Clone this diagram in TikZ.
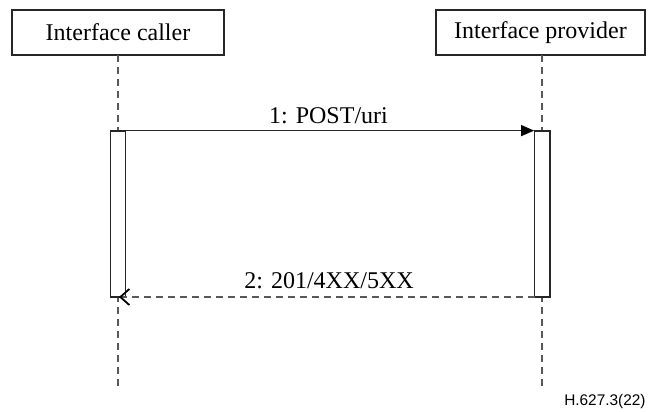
\documentclass[tikz,border=0pt]{standalone}
\usepackage{fontspec}
\setmainfont{Liberation Serif}
\newfontfamily\labelsans{Liberation Sans}
\usetikzlibrary{arrows.meta}
\begin{document}
\begin{tikzpicture}[x=0.5pt,y=-0.5pt,
  actor/.style={draw=black!85, line width=0.7pt, minimum height=22.5pt, inner sep=0pt, font=\fontsize{12}{14}\selectfont},
  life/.style={draw=black!65, line width=0.85pt, dash pattern=on 3.5pt off 2.5pt},
  bar/.style={draw=black!85, fill=white, line width=0.7pt},
  msg/.style={line width=0.7pt, draw=black!85},
  reply/.style={line width=0.85pt, draw=black!65, dash pattern=on 3.5pt off 2.5pt},
  lbl/.style={font=\fontsize{12}{14}\selectfont, inner sep=0pt, anchor=base}]
\useasboundingbox (0,0) rectangle (648,412);
% actors
\node[actor, minimum width=106pt] (caller) at (118,32.5) {Interface caller};
\node[actor, minimum width=104.5pt] (provider) at (540.5,32.5) {Interface provider};
% lifelines
\coordinate (cTop) at (118,55);
\coordinate (cBot) at (118,388);
\coordinate (pTop) at (542,55);
\coordinate (pBot) at (542,388);
\draw[life] (cTop) -- (cBot);
\draw[life] (pTop) -- (pBot);
% activation bars
\draw[bar] (110.5,131) rectangle (125.5,297);
\draw[bar] (534.5,131) rectangle (550,297);
\node[inner sep=0pt, minimum width=7.5pt, minimum height=83pt] (cbar) at (118,214) {};
\node[inner sep=0pt, minimum width=7.75pt, minimum height=83pt] (pbar) at (542.25,214) {};
% messages
\coordinate (m1s) at (cbar.north east);
\draw[msg, -{Triangle[length=6.5pt,width=5.5pt,color=black]}] (m1s) -- (pbar.north west |- m1s);
\node[lbl] (l1) at (328.5,123) {1: POST/uri};
\coordinate (m2s) at (534.5,297);
\coordinate (m2e) at (119,297);
\draw[reply, -{Straight Barb[length=4.5pt,width=8pt,line width=0.9pt,color=black]}] (m2s) -- (m2e);
\node[lbl] (l2) at (329,288) {2: 201/4XX/5XX};
% figure id
\node[font=\labelsans\fontsize{7.7}{9}\selectfont, anchor=base east, inner sep=0pt] (fig) at (646,405) {H.627.3(22)};
\end{tikzpicture}
\end{document}
